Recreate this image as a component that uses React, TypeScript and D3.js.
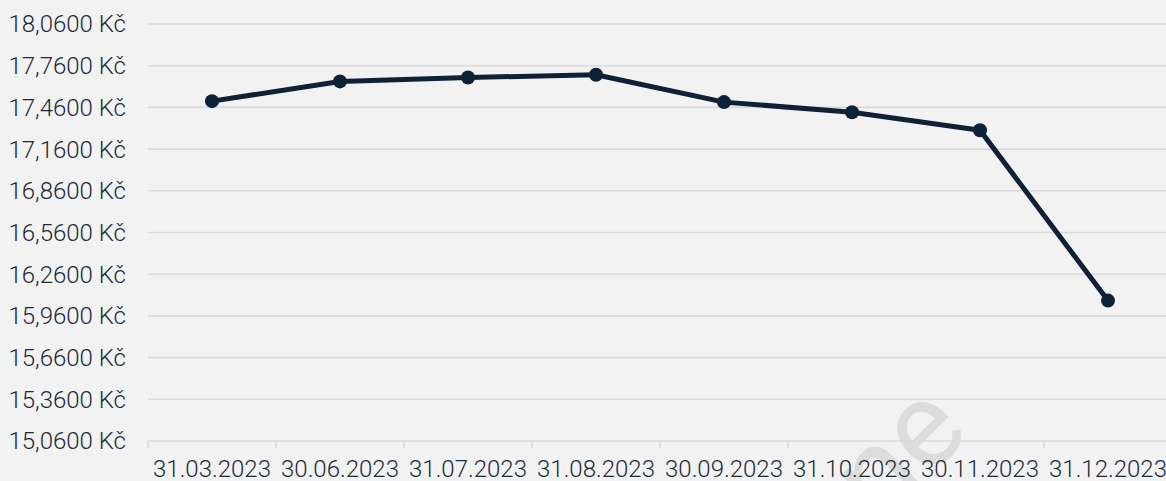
import React from "react";
import * as d3 from "d3";

const categories = ["31.03.2023", "30.06.2023", "31.07.2023", "31.08.2023", "30.09.2023", "31.10.2023", "30.11.2023", "31.12.2023"];
const values = [17.505, 17.647, 17.675, 17.695, 17.498, 17.425, 17.296, 16.07];
const yTicks = [15.06, 15.36, 15.66, 15.96, 16.26, 16.56, 16.86, 17.16, 17.46, 17.76, 18.06];

const W = 1166;
const H = 481;
const TEXT = "#1c2b3a";
const GRID = "#dadada";
const LINE = "#0f2136";

export default function App() {
  const x = d3.scaleBand<string>().domain(categories).range([148, 1172]).padding(0);
  const y = d3.scaleLinear().domain([15.06, 18.06]).range([441, 24]);
  const fmt = (v: number) => v.toFixed(4).replace(".", ",") + " Kč";
  const line = d3
    .line<number>()
    .x((_, i) => (x(categories[i]) as number) + x.bandwidth() / 2)
    .y((d) => y(d));
  const bounds = categories.map((c) => x(c) as number).concat([x.range()[1]]);

  return (
    <svg
      width={W}
      height={H}
      style={{ position: "fixed", left: 0, top: 0, display: "block", background: "#f2f2f2" }}
      fontFamily="Roboto, sans-serif"
    >
      <rect x={0} y={0} width={W} height={H} fill="#f2f2f2" />
      <g transform="translate(972,434) rotate(-45)">
        <text x={0} y={0} fontSize={120} fill="#dcdcdc" fontFamily="Roboto, sans-serif" fontWeight={400} textAnchor="end">ne</text>
      </g>
      {yTicks.map((t) => (
        <g key={t}>
          <line x1={148} x2={1172} y1={y(t)} y2={y(t)} stroke={GRID} strokeWidth={1.6} />
          <text x={126} y={y(t)} dy="0.35em" textAnchor="end" fontSize={24} fontWeight={300} fill={TEXT}>
            {fmt(t)}
          </text>
        </g>
      ))}
      {bounds.map((b, i) => (
        <line key={i} x1={b} x2={b} y1={441} y2={448} stroke={GRID} strokeWidth={1.6} />
      ))}
      {categories.map((c) => (
        <text key={c} x={(x(c) as number) + x.bandwidth() / 2} y={477} textAnchor="middle" fontSize={24} fontWeight={300} fill={TEXT}>
          {c}
        </text>
      ))}
      <path d={line(values) as string} fill="none" stroke={LINE} strokeWidth={5} strokeLinejoin="round" />
      {values.map((v, i) => (
        <circle key={i} cx={(x(categories[i]) as number) + x.bandwidth() / 2} cy={y(v)} r={7} fill={LINE} />
      ))}
    </svg>
  );
}
